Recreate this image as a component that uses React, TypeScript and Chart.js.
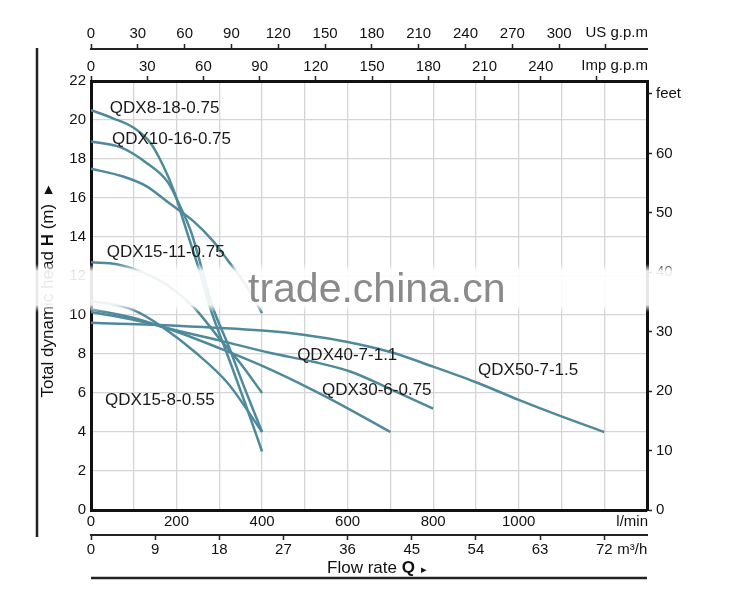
import React, { useEffect, useRef } from "react";
import { Chart, registerables } from "chart.js";

Chart.register(...registerables);

const FONT = "'Liberation Sans', Arial, Helvetica, sans-serif";
const CURVE_COLOR = "#4e8a9b";

// Pump curves: flow (l/min) and total head (m)
const flowQDX8_18 = [0, 50, 100, 140, 170, 195, 215, 240, 260, 278, 320, 360, 400];
const headQDX8_18 = [20.5, 20.1, 19.6, 18.8, 17.6, 16.3, 14.9, 13.2, 11.8, 10.4, 7.9, 5.5, 3.0];
const flowQDX10_16 = [0, 70, 130, 180, 210, 235, 255, 283, 320, 360, 400];
const headQDX10_16 = [18.9, 18.6, 17.8, 16.8, 15.5, 14.2, 12.7, 10.5, 8.5, 6.2, 4.0];
const flowQDX_17 = [0, 75, 130, 185, 240, 285, 320, 360, 400];
const headQDX_17 = [17.5, 17.1, 16.6, 15.7, 14.8, 13.8, 12.8, 11.6, 10.1];
const flowQDX15_11 = [0, 60, 120, 180, 240, 300, 350, 400];
const headQDX15_11 = [12.7, 12.6, 12.2, 11.5, 10.4, 8.8, 7.5, 6.0];
const flowQDX15_8 = [0, 50, 100, 166, 243, 320, 400];
const headQDX15_8 = [10.7, 10.55, 10.25, 9.4, 8.1, 6.5, 4.0];
const flowQDX40_7 = [0, 100, 166, 300, 420, 520, 606, 700, 800];
const headQDX40_7 = [10.3, 9.85, 9.4, 8.7, 8.05, 7.6, 7.1, 6.2, 5.2];
const flowQDX30_6 = [0, 100, 166, 300, 420, 550, 700];
const headQDX30_6 = [10.15, 9.75, 9.4, 8.3, 7.2, 5.8, 4.0];
const flowQDX50_7 = [0, 200, 400, 500, 600, 700, 800, 900, 1000, 1100, 1200];
const headQDX50_7 = [9.6, 9.45, 9.2, 8.98, 8.62, 8.1, 7.35, 6.55, 5.65, 4.8, 4.0];

// Curve name labels (text, flow l/min, head m)
const labelTexts = ["QDX8-18-0.75", "QDX10-16-0.75", "QDX15-11-0.75", "QDX15-8-0.55", "QDX40-7-1.1", "QDX30-6-0.75", "QDX50-7-1.5"];
const labelFlow = [44, 49, 37, 33, 482, 540, 905];
const labelHead = [20.6, 19.0, 13.2, 5.64, 7.95, 6.15, 7.18];

// Axis ranges
const LPM_MAX = 1300;
const M3H_MAX = 78;
const IMP_MAX = 296.7;
const US_MAX = 356.3;
const H_MAX = 22;
const FEET_MAX = 72.18;

const curves = [
  [flowQDX8_18, headQDX8_18],
  [flowQDX10_16, headQDX10_16],
  [flowQDX_17, headQDX_17],
  [flowQDX15_11, headQDX15_11],
  [flowQDX15_8, headQDX15_8],
  [flowQDX40_7, headQDX40_7],
  [flowQDX30_6, headQDX30_6],
  [flowQDX50_7, headQDX50_7],
];

function drawPieces(ctx: CanvasRenderingContext2D, pieces: [string, string][], cx: number, y: number) {
  let total = 0;
  const widths = pieces.map(([t, f]) => {
    ctx.font = f;
    const w = ctx.measureText(t).width;
    total += w;
    return w;
  });
  let x = cx - total / 2;
  ctx.textAlign = "left";
  pieces.forEach(([t, f], i) => {
    ctx.font = f;
    ctx.fillText(t, x, y);
    x += widths[i];
  });
}

const overlayPlugin = {
  id: "overlay",
  afterDraw(chart: any) {
    const { ctx, chartArea: ca, scales } = chart;
    const sx = scales.x, sy = scales.y, sx2 = scales.x2, sx3 = scales.x3, sx4 = scales.x4;
    ctx.save();
    ctx.strokeStyle = "#222";
    ctx.lineWidth = 2.5;
    // outer left line and bottom line
    ctx.beginPath();
    ctx.moveTo(37, sx4.bottom - 1);
    ctx.lineTo(37, sx2.top + 2);
    ctx.stroke();
    ctx.beginPath();
    ctx.moveTo(ca.left, sx2.bottom);
    ctx.lineTo(ca.right, sx2.bottom);
    ctx.stroke();

    ctx.fillStyle = "#111";
    ctx.textBaseline = "alphabetic";
    // x title
    drawPieces(ctx, [["Flow rate ", `17px ${FONT}`], ["Q", `bold 17px ${FONT}`], ["  \u25B8", `11px ${FONT}`]], (ca.left + ca.right) / 2 + 8, sx2.bottom - 5);
    // y title
    ctx.save();
    ctx.translate(53, (ca.top + ca.bottom) / 2 - 4);
    ctx.rotate(-Math.PI / 2);
    drawPieces(ctx, [["Total dynamic head ", `17px ${FONT}`], ["H", `bold 17px ${FONT}`], [" (m)  \u25B8", `17px ${FONT}`]], 0, 0);
    ctx.restore();

    // watermark band
    const g = ctx.createLinearGradient(0, 264, 0, 312);
    g.addColorStop(0, "rgba(255,255,255,0)");
    g.addColorStop(0.15, "rgba(255,255,255,0.9)");
    g.addColorStop(0.85, "rgba(255,255,255,0.9)");
    g.addColorStop(1, "rgba(255,255,255,0)");
    ctx.fillStyle = g;
    ctx.fillRect(25, 264, 648, 48);
    ctx.fillStyle = "rgba(125,125,125,0.9)";
    ctx.font = `41px ${FONT}`;
    ctx.textAlign = "left";
    ctx.fillText("trade.china.cn", 248, 302);

    // curve labels
    ctx.fillStyle = "#1a1a1a";
    ctx.font = `17px ${FONT}`;
    ctx.textBaseline = "middle";
    ctx.textAlign = "left";
    labelTexts.forEach((t, i) => {
      ctx.fillText(t, sx.getPixelForValue(labelFlow[i]), sy.getPixelForValue(labelHead[i]));
    });

    // unit labels
    ctx.fillStyle = "#111";
    ctx.font = `15px ${FONT}`;
    ctx.textAlign = "right";
    ctx.fillText("l/min", ca.right + 1, sx.top + 12);
    ctx.fillText("Imp g.p.m", ca.right + 1, sx3.bottom - 15);
    ctx.fillText("US g.p.m", ca.right + 1, sx4.bottom - 16);
    ctx.textAlign = "left";
    const p72 = sx2.getPixelForValue(72);
    ctx.fillText("m\u00B3/h", p72 + 13, sx2.top + 15);
    ctx.restore();
  },
};

const tickFont = { size: 15, family: FONT };

export default function App() {
  const ref = useRef<HTMLCanvasElement>(null);
  useEffect(() => {
    const canvas = ref.current;
    if (!canvas) return;
    Chart.defaults.font.family = FONT;
    const datasets = curves.map(([f, h], i) => ({
      label: "c" + i,
      data: f.map((v, j) => ({ x: v, y: h[j] })),
      borderColor: CURVE_COLOR,
      backgroundColor: CURVE_COLOR,
      borderWidth: 2.5,
      pointRadius: 0,
      fill: false,
      cubicInterpolationMode: "monotone" as const,
      xAxisID: "x",
      yAxisID: "y",
    }));
    const chart = new Chart(canvas, {
      type: "line",
      data: { datasets },
      options: {
        animation: false,
        responsive: false,
        layout: { padding: { top: 0, bottom: 22, left: 0, right: 0 } },
        plugins: { legend: { display: false }, tooltip: { enabled: false } },
        scales: {
          x: {
            type: "linear", position: "bottom", min: 0, max: LPM_MAX, weight: 0,
            ticks: {
              stepSize: 100, autoSkip: false, includeBounds: false, maxRotation: 0, padding: 3,
              maxTicksLimit: 100, color: "#111", font: tickFont,
              callback: (v: any) => (v % 200 === 0 && v <= 1000 ? String(v) : ""),
            },
            grid: { color: "#d5d5d5", lineWidth: 1.3, drawTicks: false },
            border: { display: true, color: "#111", width: 3 },
            afterFit: (s: any) => { s.height = 25; },
          },
          x2: {
            type: "linear", position: "bottom", min: 0, max: M3H_MAX, weight: 1,
            ticks: {
              stepSize: 9, autoSkip: false, includeBounds: false, maxRotation: 0, padding: 1,
              maxTicksLimit: 100, color: "#111", font: tickFont,
              callback: (v: any) => String(v),
            },
            grid: { drawOnChartArea: false, drawTicks: true, tickLength: 5, tickColor: "#222", tickWidth: 1.5 },
            border: { display: true, color: "#222", width: 2 },
            afterFit: (s: any) => { s.height = 43; },
          },
          x3: {
            type: "linear", position: "top", min: 0, max: IMP_MAX, weight: 0,
            ticks: {
              stepSize: 30, autoSkip: false, includeBounds: false, maxRotation: 0, padding: 0,
              maxTicksLimit: 100, color: "#111", font: tickFont,
              callback: (v: any) => (v <= 240 ? String(v) : ""),
            },
            grid: { drawOnChartArea: false, drawTicks: true, tickLength: 5, tickColor: "#222", tickWidth: 1.5 },
            border: { display: true, color: "#111", width: 3 },
            afterFit: (s: any) => { s.height = 32; },
          },
          x4: {
            type: "linear", position: "top", min: 0, max: US_MAX, weight: 1,
            ticks: {
              stepSize: 30, autoSkip: false, includeBounds: false, maxRotation: 0, padding: 1,
              maxTicksLimit: 100, color: "#111", font: tickFont,
              callback: (v: any) => (v <= 300 ? String(v) : ""),
            },
            grid: { drawOnChartArea: false, drawTicks: true, tickLength: 5, tickColor: "#222", tickWidth: 1.5 },
            border: { display: true, color: "#222", width: 2 },
            afterFit: (s: any) => { s.height = 49; },
          },
          y: {
            type: "linear", position: "left", min: 0, max: H_MAX,
            ticks: {
              stepSize: 2, autoSkip: false, includeBounds: false, padding: 5,
              maxTicksLimit: 100, color: "#111", font: tickFont,
            },
            grid: { color: "#d5d5d5", lineWidth: 1.3, drawTicks: false },
            border: { display: true, color: "#111", width: 3 },
            afterFit: (s: any) => { s.width = 91; },
          },
          y2: {
            type: "linear", position: "right", min: 0, max: FEET_MAX,
            ticks: {
              stepSize: 10, autoSkip: false, includeBounds: false, padding: 4,
              maxTicksLimit: 100, color: "#111", font: tickFont,
              callback: (v: any) => (v === 70 ? "feet" : String(v)),
            },
            grid: { drawOnChartArea: false, drawTicks: true, tickLength: 5, tickColor: "#222", tickWidth: 1.5 },
            border: { display: true, color: "#111", width: 3 },
            afterFit: (s: any) => { s.width = 103; },
          },
        },
      } as any,
      plugins: [overlayPlugin],
    });
    return () => chart.destroy();
  }, []);
  return (
    <div style={{ position: "absolute", left: 0, top: 0, width: 750, height: 600, background: "#fff" }}>
      <canvas ref={ref} width={750} height={600} style={{ width: 750, height: 600, display: "block" }} />
    </div>
  );
}
